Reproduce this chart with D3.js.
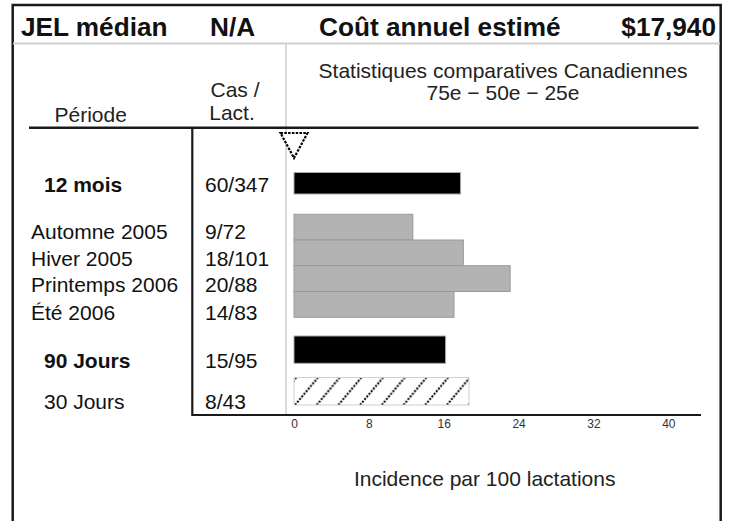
<!DOCTYPE html>
<html>
<head>
<meta charset="utf-8">
<script src="https://cdn.jsdelivr.net/npm/d3@7"></script>
<style>
  html, body { margin: 0; padding: 0; background: #fff; }
  svg { display: block; font-family: "Liberation Sans", Arial, sans-serif; }
</style>
</head>
<body>
<svg id="chart" width="734" height="521"></svg>
<script>
// ---- data ----
const headerLabels = ["JEL médian", "N/A", "Coût annuel estimé", "$17,940"];
const periods = ["12 mois", "Automne 2005", "Hiver 2005", "Printemps 2006", "Été 2006", "90 Jours", "30 Jours"];
const rowKind = ["total", "season", "season", "season", "season", "total", "recent"];
const casLact = ["60/347", "9/72", "18/101", "20/88", "14/83", "15/95", "8/43"];
const incidence = [17.8, 12.7, 18.1, 23.1, 17.1, 16.2, 18.7];
const herdMarker = [0];
const xTicks = [0, 8, 16, 24, 32, 40];
const titleLines = ["Statistiques comparatives Canadiennes", "75e − 50e − 25e"];
const colHeads = ["Période", "Cas /", "Lact."];
const xTitle = "Incidence par 100 lactations";

// ---- layout ----
const svg = d3.select("#chart");
const x = d3.scaleLinear().domain([0, 40]).range([294, 668.3]);

const rows = periods.map((p, i) => ({ period: p, kind: rowKind[i], cas: casLact[i], value: incidence[i] }));

const barTop = d3.scaleOrdinal().domain(periods).range([172.5, 214.3, 240, 265.7, 291.5, 336, 377.5]);
const barBot = d3.scaleOrdinal().domain(periods).range([194, 240, 265.7, 291.5, 317.3, 363.3, 405]);
const labelY = d3.scaleOrdinal().domain(periods).range([192, 239, 265.5, 292, 320, 368, 408.5]);

const dark = "#1a1a1a";
const bodySize = 21;

// outer frame (open at bottom)
svg.append("path")
  .attr("d", "M12.7,521 V5 H720.7 V521")
  .attr("fill", "none").attr("stroke", dark).attr("stroke-width", 2.5);

// header separator
svg.append("line").attr("x1", 13).attr("x2", 720).attr("y1", 43.5).attr("y2", 43.5)
  .attr("stroke", "#cfcfcf").attr("stroke-width", 2);

// gray vertical divider
svg.append("line").attr("x1", 286).attr("x2", 286).attr("y1", 44).attr("y2", 415)
  .attr("stroke", "#cfcfcf").attr("stroke-width", 1.5);

// header texts
const hdr = svg.append("g").attr("font-weight", "bold").attr("font-size", 26.2).attr("fill", "#111");
hdr.append("text").attr("x", 21).attr("y", 36).text(headerLabels[0]);
hdr.append("text").attr("x", 210).attr("y", 36).text(headerLabels[1]);
hdr.append("text").attr("x", 319).attr("y", 36).text(headerLabels[2]);
hdr.append("text").attr("x", 716).attr("y", 36).attr("text-anchor", "end").text(headerLabels[3]);

// column headers
const ch = svg.append("g").attr("font-size", bodySize).attr("fill", "#222");
ch.append("text").attr("x", 54.5).attr("y", 121.5).text(colHeads[0]);
ch.append("text").attr("x", 235).attr("y", 96.5).attr("text-anchor", "middle").text(colHeads[1]);
ch.append("text").attr("x", 232).attr("y", 119.5).attr("text-anchor", "middle").text(colHeads[2]);
titleLines.forEach((t, i) => {
  ch.append("text").attr("x", 503).attr("y", 77.5 + i * 22.5).attr("text-anchor", "middle").text(t);
});

// black underline and L frame
svg.append("line").attr("x1", 29).attr("x2", 698.5).attr("y1", 127.7).attr("y2", 127.7)
  .attr("stroke", dark).attr("stroke-width", 2.5);
svg.append("path").attr("d", "M192.3,127.7 V415 H701")
  .attr("fill", "none").attr("stroke", dark).attr("stroke-width", 2.2);

// row labels
const lab = svg.append("g").attr("font-size", bodySize).attr("fill", "#111");
lab.selectAll("text.period").data(rows).join("text")
  .attr("class", "period")
  .attr("x", d => d.kind === "season" ? 31 : 44)
  .attr("y", d => labelY(d.period))
  .attr("font-weight", d => d.kind === "total" ? "bold" : "normal")
  .text(d => d.period);
lab.selectAll("text.cas").data(rows).join("text")
  .attr("class", "cas")
  .attr("x", 205)
  .attr("y", d => labelY(d.period))
  .text(d => d.cas);

// hatch pattern
const defs = svg.append("defs");
const hatchRow = rows.find(r => r.kind === "recent");
const hTop = barTop(hatchRow.period), hH = barBot(hatchRow.period) - hTop;
const pat = defs.append("pattern").attr("id", "hatch").attr("patternUnits", "userSpaceOnUse")
  .attr("x", x(0)).attr("y", hTop).attr("width", 21.7).attr("height", hH);
pat.append("rect").attr("width", 21.7).attr("height", hH).attr("fill", "#fff");
[-21.7, 0, 21.7].forEach(o => {
  pat.append("line").attr("x1", o + 1).attr("y1", hH).attr("x2", o + 24).attr("y2", 0)
    .attr("stroke", "#000").attr("stroke-width", 2).attr("stroke-dasharray", "2,1.4");
});

// bars
svg.append("g").selectAll("rect").data(rows).join("rect")
  .attr("x", x(0))
  .attr("y", d => barTop(d.period))
  .attr("width", d => x(d.value) - x(0))
  .attr("height", d => barBot(d.period) - barTop(d.period))
  .attr("fill", d => d.kind === "season" ? "#b3b3b3" : d.kind === "total" ? "#000" : "url(#hatch)")
  .attr("stroke", d => d.kind === "season" ? "#9a9a9a" : d.kind === "total" ? "#aaa" : "#cfcfcf")
  .attr("stroke-width", 1);

// herd marker triangle
svg.append("g").selectAll("path").data(herdMarker).join("path")
  .attr("d", d => `M${x(d) - 13.5},133 H${x(d) + 13.5} L${x(d)},158 Z`)
  .attr("fill", "#fff").attr("stroke", "#000").attr("stroke-width", 2.2)
  .attr("stroke-dasharray", "2.5,1.3");

// x axis tick labels
const axis = d3.axisBottom(x).tickValues(xTicks).tickSize(0).tickPadding(0);
const ag = svg.append("g").attr("transform", "translate(0,419)").call(axis);
ag.select(".domain").remove();
ag.selectAll("text").attr("font-size", 12).attr("fill", "#333")
  .attr("font-family", "'Liberation Sans', Arial, sans-serif").attr("dy", "0.71em");

// x title
svg.append("text").attr("x", 484.7).attr("y", 486).attr("text-anchor", "middle")
  .attr("font-size", bodySize).attr("fill", "#222").text(xTitle);
</script>
</body>
</html>
